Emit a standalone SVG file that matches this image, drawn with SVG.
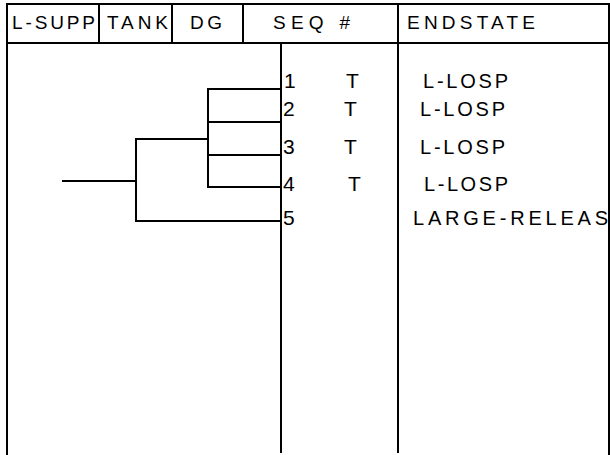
<svg xmlns="http://www.w3.org/2000/svg" width="610" height="455" viewBox="0 0 610 455">
<style>
.ln{stroke:#000;stroke-width:2;fill:none;stroke-linecap:square}
.t{font-family:"Liberation Sans",Arial,sans-serif;font-size:19px;fill:#000}
.b{font-size:20px}
.s{font-size:21px}
</style>
<rect width="610" height="455" fill="#fff"/>
<g id="frame">
<path class="ln" d="M7,4 H609 M7,4 V455 M609,4 V455 M7,43 H609 M99,4 V43 M172,4 V43 M243,4 V43 M398,4 V452 M281,43 V452"/>
</g>
<g id="header">
<text class="t" x="12" y="29" textLength="83" lengthAdjust="spacing">L-SUPP</text>
<text class="t" x="107" y="29" textLength="61" lengthAdjust="spacing">TANK</text>
<text class="t" x="190" y="29" textLength="32" lengthAdjust="spacing">DG</text>
<text class="t" x="273" y="29" textLength="77" lengthAdjust="spacing">SEQ #</text>
<text class="t" x="407" y="29" textLength="128" lengthAdjust="spacing">ENDSTATE</text>
</g>
<g id="connectors">
<path class="ln" d="M63,181 H136 M136,139 V221 M136,139 H208 M136,221 H281 M208,89 V187 M208,89 H281 M208,122 H281 M208,155 H281 M208,187 H281"/>
</g>
<g id="seq1">
<text class="t s" x="284" y="88">1</text>
<text class="t s" x="346" y="88">T</text>
<text class="t b" x="423" y="88" textLength="85" lengthAdjust="spacing">L-LOSP</text>
</g>
<g id="seq2">
<text class="t s" x="283" y="116">2</text>
<text class="t s" x="344" y="116">T</text>
<text class="t b" x="420" y="116" textLength="85" lengthAdjust="spacing">L-LOSP</text>
</g>
<g id="seq3">
<text class="t s" x="283" y="154">3</text>
<text class="t s" x="344" y="154">T</text>
<text class="t b" x="420" y="154" textLength="85" lengthAdjust="spacing">L-LOSP</text>
</g>
<g id="seq4">
<text class="t s" x="283" y="191">4</text>
<text class="t s" x="348" y="191">T</text>
<text class="t b" x="424" y="191" textLength="84" lengthAdjust="spacing">L-LOSP</text>
</g>
<g id="seq5">
<text class="t s" x="283" y="225">5</text>
<text class="t b" x="413" y="225" textLength="195" lengthAdjust="spacing">LARGE-RELEAS</text>
</g>
</svg>
